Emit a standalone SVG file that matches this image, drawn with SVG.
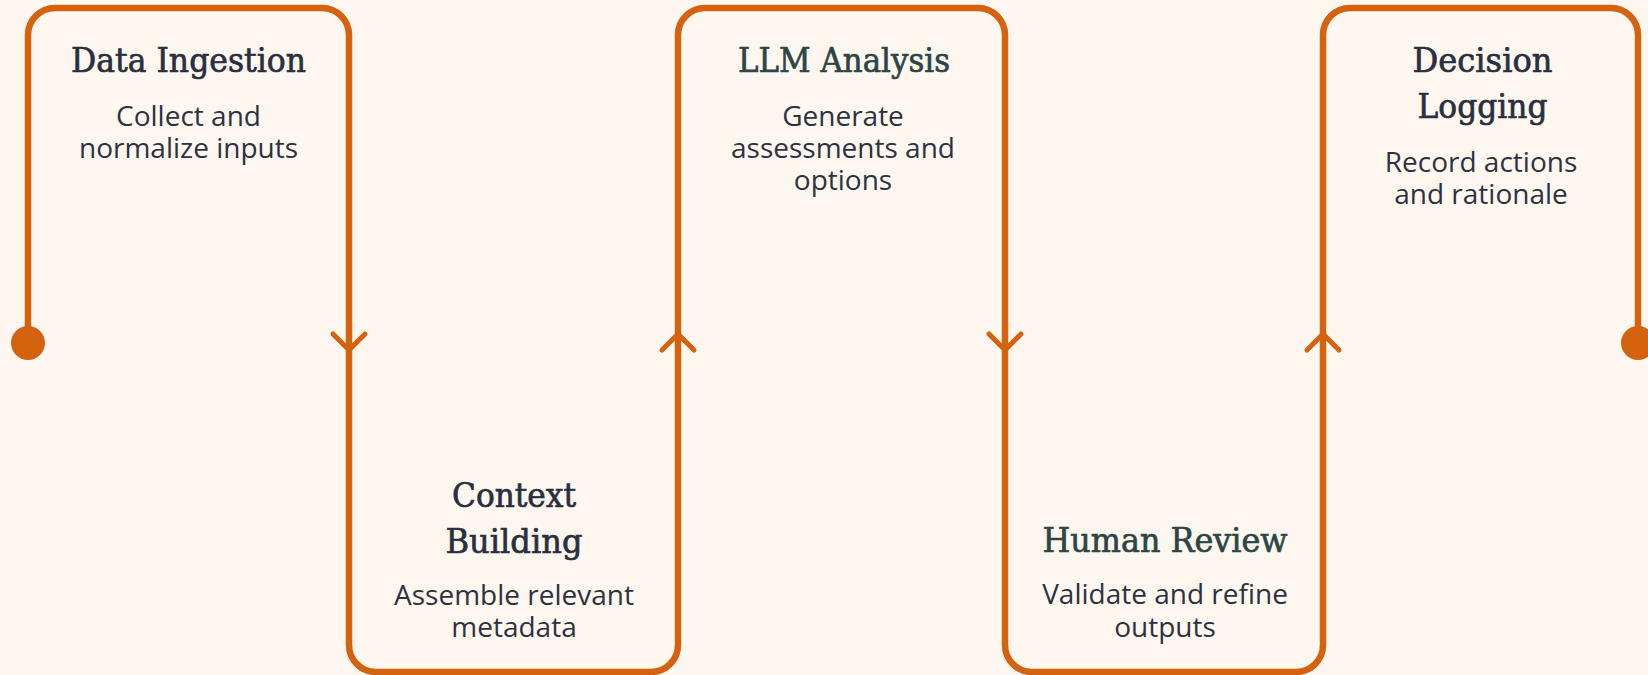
<svg xmlns="http://www.w3.org/2000/svg" width="1648" height="675" viewBox="0 0 1648 675">
  <style>
    .bg { fill: #FEF7F0; }
    .frame { fill: none; stroke: #D4620F; stroke-width: 6.5; stroke-linejoin: round; }
    .chev { fill: none; stroke: #D4620F; stroke-width: 5; stroke-linecap: round; stroke-linejoin: round; }
    .dot { fill: #D4620F; }
    .title { font-family: "DejaVu Serif", "Liberation Serif", serif; font-size: 33px; fill: #2A2F3F; stroke: #2A2F3F; stroke-width: 0.7px; text-anchor: middle; }
    .title.teal { fill: #2C4545; stroke: #2C4545; }
    .desc { font-family: "Open Sans", "Noto Sans", "Liberation Sans", sans-serif; font-size: 28px; fill: #2D3241; text-anchor: middle; }
  </style>

  <rect class="bg" x="0" y="0" width="1648" height="675"/>

  <!-- Step 1: upper lane -->
  <g id="data-ingestion">
    <path class="frame" d="M28,343 V35 A27,27 0 0 1 55,8 H322 A27,27 0 0 1 349,35 V343"/>
    <text class="title" x="188.5" y="72" textLength="235" lengthAdjust="spacingAndGlyphs">Data Ingestion</text>
    <text class="desc" x="188.5" y="126">Collect and</text>
    <text class="desc" x="188.5" y="158">normalize inputs</text>
  </g>

  <!-- Step 2: lower lane -->
  <g id="context-building">
    <path class="frame" d="M349,343 V645 A27,27 0 0 0 376,672 H651 A27,27 0 0 0 678,645 V343"/>
    <text class="title" x="514" y="507" textLength="124" lengthAdjust="spacingAndGlyphs">Context</text>
    <text class="title" x="514" y="553" textLength="137" lengthAdjust="spacingAndGlyphs">Building</text>
    <text class="desc" x="514" y="605">Assemble relevant</text>
    <text class="desc" x="514" y="637">metadata</text>
  </g>

  <!-- Step 3: upper lane -->
  <g id="llm-analysis">
    <path class="frame" d="M678,343 V35 A27,27 0 0 1 705,8 H978 A27,27 0 0 1 1005,35 V343"/>
    <text class="title teal" x="844" y="72" textLength="212" lengthAdjust="spacingAndGlyphs">LLM Analysis</text>
    <text class="desc" x="843" y="126">Generate</text>
    <text class="desc" x="843" y="158">assessments and</text>
    <text class="desc" x="843" y="190">options</text>
  </g>

  <!-- Step 4: lower lane -->
  <g id="human-review">
    <path class="frame" d="M1005,343 V645 A27,27 0 0 0 1032,672 H1296 A27,27 0 0 0 1323,645 V343"/>
    <text class="title teal" x="1165" y="552" textLength="245" lengthAdjust="spacingAndGlyphs">Human Review</text>
    <text class="desc" x="1165" y="604">Validate and refine</text>
    <text class="desc" x="1165" y="637">outputs</text>
  </g>

  <!-- Step 5: upper lane -->
  <g id="decision-logging">
    <path class="frame" d="M1323,343 V35 A27,27 0 0 1 1350,8 H1611 A27,27 0 0 1 1638,35 V343"/>
    <text class="title" x="1482.5" y="72" textLength="140" lengthAdjust="spacingAndGlyphs">Decision</text>
    <text class="title" x="1482.5" y="118" textLength="130" lengthAdjust="spacingAndGlyphs">Logging</text>
    <text class="desc" x="1481" y="172">Record actions</text>
    <text class="desc" x="1481" y="204">and rationale</text>
  </g>

  <!-- Flow direction marks and terminals -->
  <g id="connectors">
    <circle class="dot" cx="28" cy="343" r="17"/>
    <polyline class="chev" points="333,334 349,350 365,334"/>
    <polyline class="chev" points="662,350 678,334 694,350"/>
    <polyline class="chev" points="989,334 1005,350 1021,334"/>
    <polyline class="chev" points="1307,350 1323,334 1339,350"/>
    <circle class="dot" cx="1638" cy="343" r="17"/>
  </g>
</svg>
